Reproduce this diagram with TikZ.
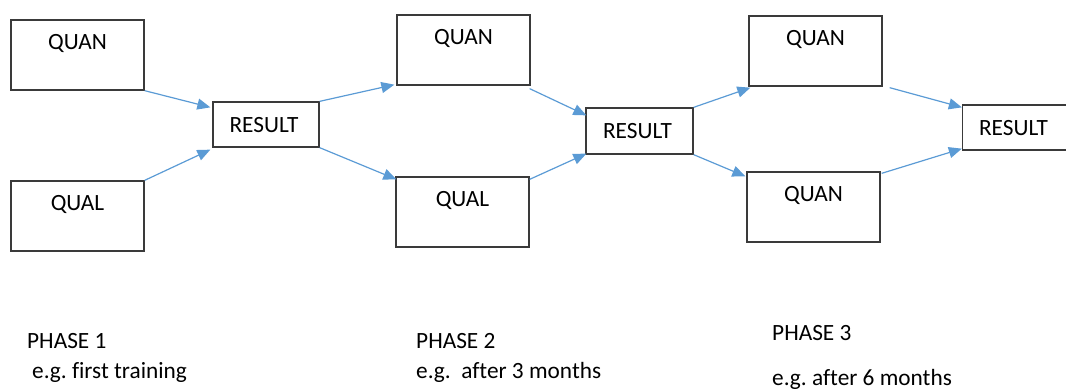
\documentclass[tikz,border=0pt]{standalone}
\usepackage{fontspec}
\setmainfont{Carlito}[Ligatures=NoCommon]
\usetikzlibrary{arrows.meta,calc}
\frenchspacing
\definecolor{flowblue}{HTML}{5B9BD5}
\definecolor{edgegray}{HTML}{3A3A3A}
\tikzset{
  box/.style={draw=edgegray, line width=1.3pt, inner sep=0pt,
    minimum width=133pt, minimum height=70pt,
    text height=15pt, text depth=26pt},
  resbox/.style={draw=edgegray, line width=1.3pt, inner sep=0pt,
    minimum width=106pt, minimum height=45pt,
    text height=15pt, text depth=0pt},
  flow/.style={draw=flowblue, line width=1.2pt,
    -{Triangle[length=13pt,width=11pt]}},
  caption/.style={anchor=base west, inner sep=0pt}
}
\begin{document}
\begin{tikzpicture}[x=1pt,y=-1pt,font=\fontsize{23.3}{27}\selectfont]
  \useasboundingbox (0,0) rectangle (1066,389);
  \clip (0,0) rectangle (1066,389);

  % phase 1
  \node[box] (q1) at (77.5,55) {QUAN};
  \node[box] (l1) at (77.5,216) {QUAL};
  \node[resbox] (r1) at (266,124.5) {\hspace*{-4pt}RESULT};

  % phase 2
  \node[box] (q2) at (463.5,50) {QUAN};
  \node[box] (l2) at (462.5,212) {QUAL};
  \node[resbox, minimum width=107pt, minimum height=46pt] (r2) at (639.5,131) {\hspace*{-4pt}RESULT};

  % phase 3
  \node[box] (q3) at (815.5,51) {QUAN};
  \node[box] (q3b) at (813.5,207) {QUAN};
  \node[resbox] (r3) at (1015.5,127.5) {\hspace*{-4pt}RESULT};

  % connectors
  \draw[flow] (q1.south east) -- ($(r1.north west)+(-2,6)$);
  \draw[flow] (l1.north east) -- ($(r1.south west)+(-2,2)$);
  \draw[flow] (r1.north east) -- ($(q2.south west)+(-2,-1)$);
  \draw[flow] (r1.south east) -- ($(l2.north west)+(1,3)$);
  \draw[flow] ($(q2.south east)+(-1,3)$) -- ($(r2.north west)+(1,8)$);
  \draw[flow] ($(l2.north east)+(0,3)$) -- ($(r2.south west)+(1,-1)$);
  \draw[flow] (r2.north east) -- ($(q3.south west)+(2,1)$);
  \draw[flow] (r2.south east) -- ($(q3b.north west)+(-1,5)$);
  \draw[flow] ($(q3.south east)+(7,1)$) -- ($(r3.north west)+(0,3)$);
  \draw[flow] ($(q3b.north east)+(1,2)$) -- ($(r3.south west)+(0,-2)$);

  % phase captions
  \node[caption] (p1) at (27,348) {PHASE 1};
  \node[caption] (e1) at (32,378) {e.g. first training};
  \node[caption] (p2) at (416,348) {PHASE 2};
  \node[caption] (e2) at (416,378) {e.g.\ \ after 3 months};
  \node[caption] (p3) at (772,340) {PHASE 3};
  \node[caption] (e3) at (772,385) {e.g. after 6 months};
\end{tikzpicture}
\end{document}
